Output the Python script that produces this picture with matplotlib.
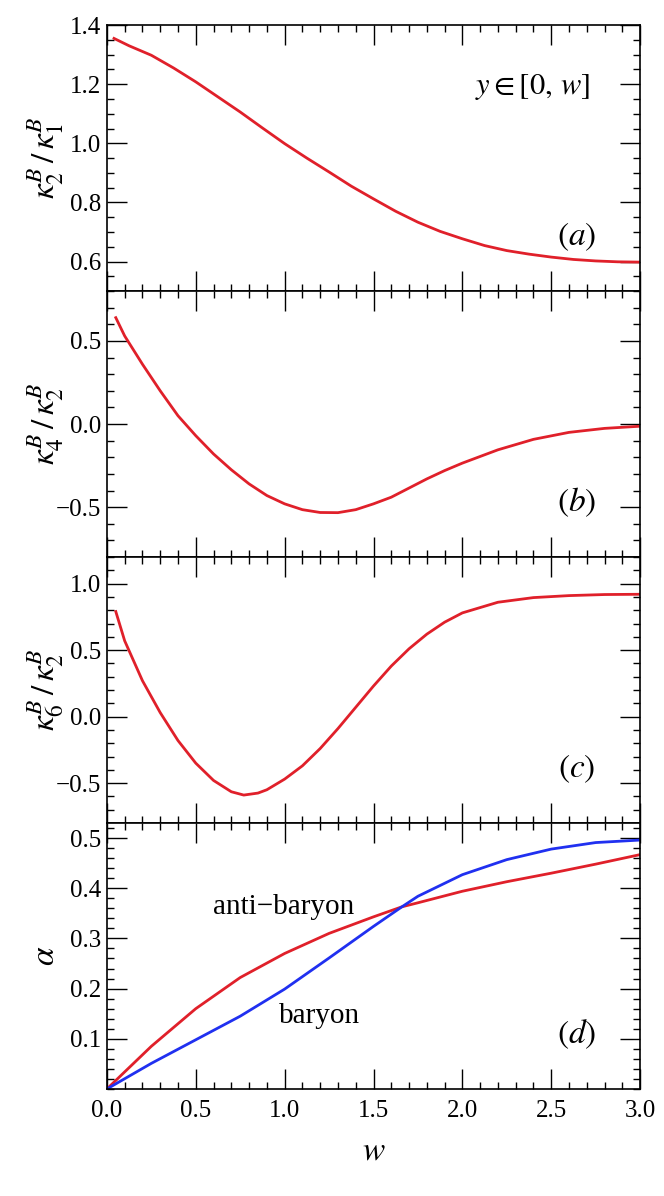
import numpy as np
import matplotlib.pyplot as plt
from matplotlib.ticker import MultipleLocator

plt.rcParams['font.family'] = ['Liberation Serif', 'DejaVu Serif']
plt.rcParams['mathtext.fontset'] = 'stix'

# panel (a): kappa2/kappa1
w_a = [0.04, 0.125, 0.25, 0.375, 0.5, 0.625, 0.75, 0.875, 1.0, 1.125, 1.25, 1.375,
       1.5, 1.625, 1.75, 1.875, 2.0, 2.125, 2.25, 2.375, 2.5, 2.625, 2.75, 2.875, 3.0]
r21 = [1.355, 1.33, 1.298, 1.255, 1.208, 1.157, 1.106, 1.052, 0.999, 0.95, 0.903,
       0.855, 0.812, 0.77, 0.733, 0.702, 0.677, 0.654, 0.637, 0.625, 0.615, 0.607,
       0.602, 0.599, 0.598]

# panel (b): kappa4/kappa2
w_b = [0.05, 0.1, 0.2, 0.3, 0.4, 0.5, 0.6, 0.7, 0.8, 0.9, 1.0, 1.1, 1.2, 1.3, 1.4,
       1.5, 1.6, 1.7, 1.8, 1.9, 2.0, 2.2, 2.4, 2.6, 2.8, 3.0]
r42 = [0.64, 0.53, 0.36, 0.2, 0.05, -0.07, -0.18, -0.275, -0.36, -0.43, -0.48, -0.515,
       -0.532, -0.533, -0.515, -0.48, -0.44, -0.385, -0.33, -0.28, -0.235, -0.155,
       -0.092, -0.05, -0.026, -0.013]

# panel (c): kappa6/kappa2
w_c = [0.05, 0.1, 0.2, 0.3, 0.4, 0.5, 0.6, 0.7, 0.77, 0.85, 0.9, 1.0, 1.1, 1.2, 1.3,
       1.4, 1.5, 1.6, 1.7, 1.8, 1.9, 2.0, 2.2, 2.4, 2.6, 2.8, 3.0]
r62 = [0.79, 0.57, 0.27, 0.03, -0.18, -0.35, -0.48, -0.565, -0.59, -0.575, -0.55,
       -0.47, -0.37, -0.24, -0.09, 0.07, 0.23, 0.38, 0.51, 0.62, 0.71, 0.78, 0.86,
       0.895, 0.91, 0.918, 0.92]

# panel (d): alpha
w_d = [0.0, 0.25, 0.5, 0.75, 1.0, 1.25, 1.5, 1.66, 1.75, 2.0, 2.25, 2.5, 2.75, 3.0]
alpha_anti = [0.0, 0.085, 0.16, 0.222, 0.27, 0.31, 0.343, 0.363, 0.371, 0.394,
              0.413, 0.43, 0.448, 0.467]
alpha_bar = [0.0, 0.051, 0.098, 0.145, 0.199, 0.261, 0.324, 0.363, 0.384, 0.427,
             0.457, 0.478, 0.491, 0.496]

red = '#e0202a'
blue = '#2030f0'

fig, axes = plt.subplots(4, 1, figsize=(6.64, 11.96), dpi=100, sharex=True)
fig.subplots_adjust(left=0.161, right=0.964, top=0.979, bottom=0.0895, hspace=0)

axes[0].plot(w_a, r21, color=red, lw=2)
axes[1].plot(w_b, r42, color=red, lw=2)
axes[2].plot(w_c, r62, color=red, lw=2)
axes[3].plot(w_d, alpha_anti, color=red, lw=2)
axes[3].plot(w_d, alpha_bar, color=blue, lw=2)

ylims = [(0.5, 1.4), (-0.8, 0.8), (-0.8, 1.2), (0.0, 0.53)]
majors = [0.2, 0.5, 0.5, 0.1]
minors = [0.05, 0.1, 0.1, 0.02]
ylabels = [r'$\kappa_2^B\,/\,\kappa_1^B$', r'$\kappa_4^B\,/\,\kappa_2^B$',
           r'$\kappa_6^B\,/\,\kappa_2^B$', r'$\alpha$']
tags = ['a', 'b', 'c', 'd']

for ax, yl, mj, mn, lab, tag in zip(axes, ylims, majors, minors, ylabels, tags):
    ax.set_xlim(0, 3)
    ax.set_ylim(*yl)
    ax.xaxis.set_major_locator(MultipleLocator(0.5))
    ax.xaxis.set_minor_locator(MultipleLocator(0.1))
    ax.yaxis.set_major_locator(MultipleLocator(mj))
    ax.yaxis.set_minor_locator(MultipleLocator(mn))
    ax.tick_params(which='both', direction='in', top=True, right=True, labelsize=18)
    ax.tick_params(which='major', length=14.5, width=1.0)
    ax.tick_params(which='minor', length=5, width=1.0)
    ax.tick_params(axis='y', pad=4)
    ax.tick_params(axis='x', pad=8)
    for s in ax.spines.values():
        s.set_linewidth(1.2)
    ax.set_ylabel(lab, fontsize=24)
    ax.yaxis.set_label_coords(-0.114, 0.5)
    ax.yaxis.label.set_va('center')
    ax.text(0.881, 0.205, r'$(%s)$' % tag, transform=ax.transAxes,
            fontsize=24, ha='center', va='center')

axes[3].set_yticks([0.1, 0.2, 0.3, 0.4, 0.5])
axes[3].set_yticklabels(['0.1', '0.2', '0.3', '0.4', '0.5'])
axes[3].set_xticks([0.0, 0.5, 1.0, 1.5, 2.0, 2.5, 3.0])
axes[3].set_xticklabels(['0.0', '0.5', '1.0', '1.5', '2.0', '2.5', '3.0'])
axes[3].set_xlabel(r'$w$', fontsize=24, labelpad=10)

axes[0].text(2.396, 1.191, r'$y\in[0,\,w]$', fontsize=22, ha='center', va='center')
axes[3].text(0.994, 0.363, 'anti\u2212baryon', fontsize=21, ha='center', va='center')
axes[3].text(1.199, 0.145, 'baryon', fontsize=21, ha='center', va='center')

plt.savefig('out.png', dpi=100)
plt.close()
